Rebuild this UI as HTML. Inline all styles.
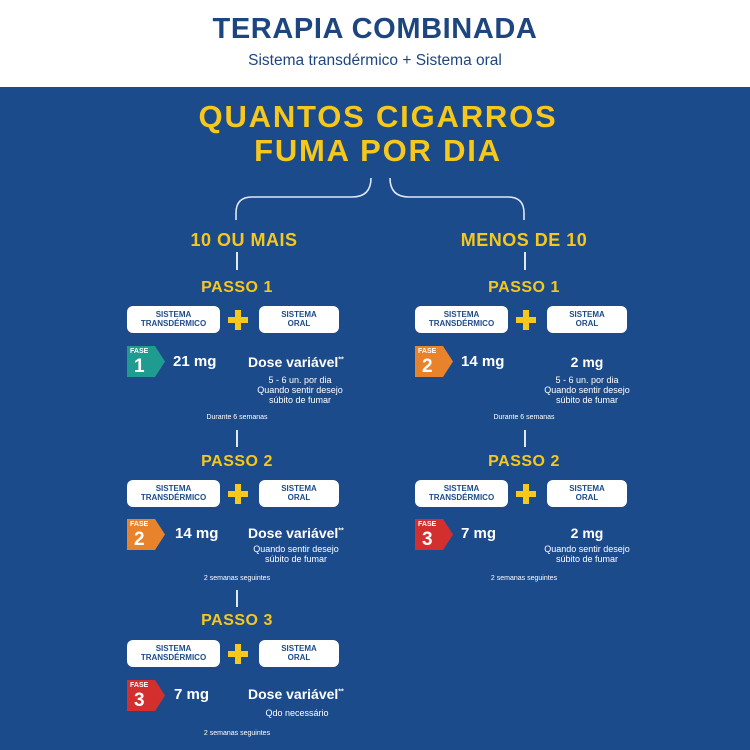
<!DOCTYPE html>
<html><head><meta charset="utf-8"><style>
*{margin:0;padding:0;box-sizing:border-box}
body{width:750px;height:750px;position:relative;overflow:hidden;background:#1c4b8c;font-family:"Liberation Sans",sans-serif}
.hdr{position:absolute;left:0;top:0;width:750px;height:87px;background:#fff}
.a{position:absolute;white-space:nowrap}
.c{transform:translateX(-50%);text-align:center}
.y{color:#f6c81b;font-weight:bold}
.box{position:absolute;height:27px;background:#fff;border-radius:6px;color:#1c4b8c;font-weight:bold;font-size:8px;line-height:9px;text-align:center;padding-top:4px}
.plus{position:absolute;width:20px;height:20px}
.plus:before{content:"";position:absolute;left:7px;top:0;width:6px;height:20px;background:#f6c81b}
.plus:after{content:"";position:absolute;left:0;top:7px;width:20px;height:6px;background:#f6c81b}
.badge{position:absolute;width:38px;height:31px}
.badge svg{position:absolute;left:0;top:0}
.bf{position:absolute;left:3px;top:2px;font-size:7px;font-weight:bold;color:#fff}
.bn{position:absolute;left:7px;top:10px;font-size:19px;font-weight:bold;color:#fff}
.mg{font-size:15px;font-weight:bold;color:#fff}
.w{color:#fff}
.s{font-size:9px;color:#fff;line-height:10px}
.t{font-size:7px;color:#fff}
.vl{position:absolute;width:1.5px;background:#dfe7f3}
</style></head><body>
<div class="hdr"></div>
<div class="a c" style="left:375px;top:13px;font-size:29px;font-weight:bold;color:#1d4680;letter-spacing:0.6px">TERAPIA COMBINADA</div>
<div class="a c" style="left:375px;top:52px;font-size:15.5px;color:#1d4680">Sistema transdérmico + Sistema oral</div>

<div class="a c y" style="left:378px;top:100px;font-size:31px;line-height:34px;letter-spacing:1.8px">QUANTOS CIGARROS<br>FUMA POR DIA</div>
<svg class="a" style="left:0;top:0" width="750" height="750">
<path d="M371 178 Q371 197 352 197 L252 197 Q236 197 236 213 L236 220" fill="none" stroke="#dfe7f3" stroke-width="1.6"/>
<path d="M390 178 Q390 197 409 197 L508 197 Q524 197 524 213 L524 220" fill="none" stroke="#dfe7f3" stroke-width="1.6"/>
</svg>
<div class="a c y" style="left:244px;top:230px;font-size:18px;letter-spacing:0.5px">10 OU MAIS</div>
<div class="a c y" style="left:524px;top:230px;font-size:18px;letter-spacing:0.5px">MENOS DE 10</div>
<div class="vl" style="left:236px;top:252px;height:18px"></div>
<div class="vl" style="left:524px;top:252px;height:18px"></div>

<!-- LEFT PASSO 1 -->
<div class="a c y" style="left:237px;top:279px;font-size:16px;letter-spacing:0.5px">PASSO 1</div>
<div class="box" style="left:127px;top:306px;width:93px">SISTEMA<br>TRANSDÉRMICO</div>
<div class="plus" style="left:228px;top:310px"></div>
<div class="box" style="left:259px;top:306px;width:80px">SISTEMA<br>ORAL</div>
<div class="badge" style="left:127px;top:346px"><svg width="38" height="31"><path d="M0 0H28L38 15.5L28 31H0Z" fill="#1f9b8f"/></svg><div class="bf">FASE</div><div class="bn">1</div></div>
<div class="a mg" style="left:173px;top:353px">21 mg</div>
<div class="a w" style="left:248px;top:354px;font-size:14px;font-weight:bold">Dose variável<sup style="font-size:7px">**</sup></div>
<div class="a c s" style="left:300px;top:375px">5 - 6 un. por dia<br>Quando sentir desejo<br>súbito de fumar</div>
<div class="a c t" style="left:237px;top:414px">Durante 6 semanas</div>
<div class="vl" style="left:236px;top:430px;height:17px"></div>

<!-- LEFT PASSO 2 -->
<div class="a c y" style="left:237px;top:453px;font-size:16px;letter-spacing:0.5px">PASSO 2</div>
<div class="box" style="left:127px;top:480px;width:93px">SISTEMA<br>TRANSDÉRMICO</div>
<div class="plus" style="left:228px;top:484px"></div>
<div class="box" style="left:259px;top:480px;width:80px">SISTEMA<br>ORAL</div>
<div class="badge" style="left:127px;top:519px"><svg width="38" height="31"><path d="M0 0H28L38 15.5L28 31H0Z" fill="#e9832b"/></svg><div class="bf">FASE</div><div class="bn">2</div></div>
<div class="a mg" style="left:175px;top:525px">14 mg</div>
<div class="a w" style="left:248px;top:525px;font-size:14px;font-weight:bold">Dose variável<sup style="font-size:7px">**</sup></div>
<div class="a c s" style="left:296px;top:544px">Quando sentir desejo<br>súbito de fumar</div>
<div class="a c t" style="left:237px;top:575px">2 semanas seguintes</div>
<div class="vl" style="left:236px;top:590px;height:17px"></div>

<!-- LEFT PASSO 3 -->
<div class="a c y" style="left:237px;top:612px;font-size:16px;letter-spacing:0.5px">PASSO 3</div>
<div class="box" style="left:127px;top:640px;width:93px">SISTEMA<br>TRANSDÉRMICO</div>
<div class="plus" style="left:228px;top:644px"></div>
<div class="box" style="left:259px;top:640px;width:80px">SISTEMA<br>ORAL</div>
<div class="badge" style="left:127px;top:680px"><svg width="38" height="31"><path d="M0 0H28L38 15.5L28 31H0Z" fill="#d42f2f"/></svg><div class="bf">FASE</div><div class="bn">3</div></div>
<div class="a mg" style="left:174px;top:686px">7 mg</div>
<div class="a w" style="left:248px;top:686px;font-size:14px;font-weight:bold">Dose variável<sup style="font-size:7px">**</sup></div>
<div class="a c s" style="left:297px;top:708px">Qdo necessário</div>
<div class="a c t" style="left:237px;top:730px">2 semanas seguintes</div>

<!-- RIGHT PASSO 1 -->
<div class="a c y" style="left:524px;top:279px;font-size:16px;letter-spacing:0.5px">PASSO 1</div>
<div class="box" style="left:415px;top:306px;width:93px">SISTEMA<br>TRANSDÉRMICO</div>
<div class="plus" style="left:516px;top:310px"></div>
<div class="box" style="left:547px;top:306px;width:80px">SISTEMA<br>ORAL</div>
<div class="badge" style="left:415px;top:346px"><svg width="38" height="31"><path d="M0 0H28L38 15.5L28 31H0Z" fill="#e9832b"/></svg><div class="bf">FASE</div><div class="bn">2</div></div>
<div class="a mg" style="left:461px;top:353px">14 mg</div>
<div class="a c w" style="left:587px;top:354px;font-size:14px;font-weight:bold">2 mg</div>
<div class="a c s" style="left:587px;top:375px">5 - 6 un. por dia<br>Quando sentir desejo<br>súbito de fumar</div>
<div class="a c t" style="left:524px;top:414px">Durante 6 semanas</div>
<div class="vl" style="left:524px;top:430px;height:17px"></div>

<!-- RIGHT PASSO 2 -->
<div class="a c y" style="left:524px;top:453px;font-size:16px;letter-spacing:0.5px">PASSO 2</div>
<div class="box" style="left:415px;top:480px;width:93px">SISTEMA<br>TRANSDÉRMICO</div>
<div class="plus" style="left:516px;top:484px"></div>
<div class="box" style="left:547px;top:480px;width:80px">SISTEMA<br>ORAL</div>
<div class="badge" style="left:415px;top:519px"><svg width="38" height="31"><path d="M0 0H28L38 15.5L28 31H0Z" fill="#d42f2f"/></svg><div class="bf">FASE</div><div class="bn">3</div></div>
<div class="a mg" style="left:461px;top:525px">7 mg</div>
<div class="a c w" style="left:587px;top:525px;font-size:14px;font-weight:bold">2 mg</div>
<div class="a c s" style="left:587px;top:544px">Quando sentir desejo<br>súbito de fumar</div>
<div class="a c t" style="left:524px;top:575px">2 semanas seguintes</div>
</body></html>
